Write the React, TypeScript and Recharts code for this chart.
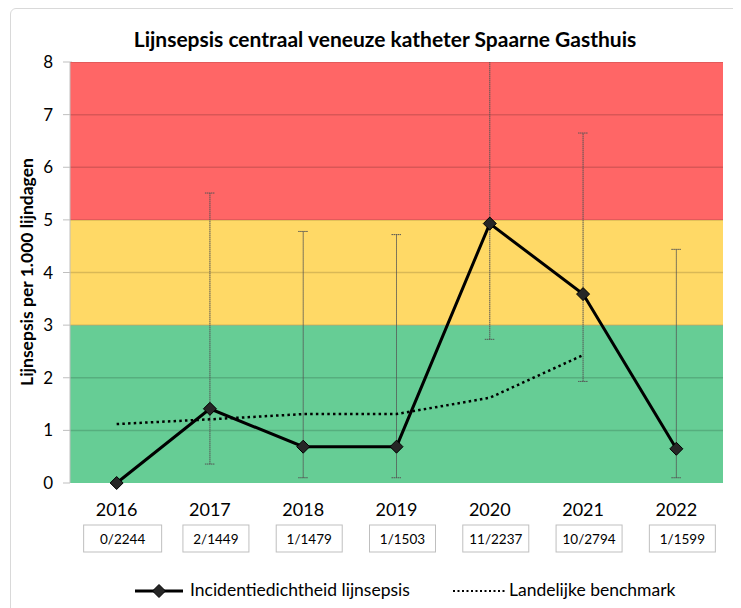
import React from 'react';
import { ComposedChart, Line, XAxis, YAxis, ReferenceArea, ReferenceLine, ErrorBar } from 'recharts';

const years = ['2016', '2017', '2018', '2019', '2020', '2021', '2022'];
const counts = ['0/2244', '2/1449', '1/1479', '1/1503', '11/2237', '10/2794', '1/1599'];
const incidence = [0, 1.41, 0.69, 0.69, 4.93, 3.59, 0.65];
const ciLow: (number | null)[] = [null, 0.36, 0.1, 0.1, 2.73, 1.93, 0.1];
const ciHigh: (number | null)[] = [null, 5.51, 4.78, 4.72, 9.6, 6.65, 4.44];
const benchmark: (number | null)[] = [1.12, 1.21, 1.31, 1.31, 1.62, 2.43, null];
const yTicks = [0, 1, 2, 3, 4, 5, 6, 7, 8];
const bands = [
  { from: 0, to: 3, color: '#66CD95' },
  { from: 3, to: 5, color: '#FFD966' },
  { from: 5, to: 8, color: '#FF6666' },
];

const data = years.map((y, i) => ({
  x: i + 0.5,
  year: y,
  value: incidence[i],
  err: ciLow[i] == null || ciHigh[i] == null ? undefined : [incidence[i] - (ciLow[i] as number), (ciHigh[i] as number) - incidence[i]],
  bench: benchmark[i],
}));

const FONT = 'Lato, "Liberation Sans", sans-serif';

const CatTick = (props: any) => {
  const { x, y, payload } = props;
  const i = Math.floor(payload.value);
  const wide = i === 0 ? 78 : 66;
  return (
    <g>
      <text x={x} y={y + 25} textAnchor="middle" fontSize={18} fill="#000" fontFamily={FONT}>{years[i]}</text>
      <rect x={x + 6 - wide / 2} y={y + 34} width={wide} height={27} fill="#fff" stroke="#bfbfbf" strokeWidth={1} />
      <text x={x + 6} y={y + 53} textAnchor="middle" fontSize={13.5} fill="#000" fontFamily={FONT}>{counts[i]}</text>
    </g>
  );
};

const Diamond = (props: any) => {
  const { cx, cy } = props;
  if (cx == null || cy == null) return null;
  const r = 6.5;
  return <path d={`M${cx},${cy - r}L${cx + r},${cy}L${cx},${cy + r}L${cx - r},${cy}Z`} fill="#262626" stroke="#000" strokeWidth={1} />;
};

export default function App() {
  return (
    <div style={{ position: 'relative', width: 733, height: 600, overflow: 'hidden', fontFamily: FONT }}>
      <ComposedChart width={733} height={600} data={data} margin={{ top: 54, right: 18, left: 0, bottom: 25 }} style={{ position: 'absolute', left: 0, top: 0 }}>
        <XAxis xAxisId="grid" type="number" domain={[0, 7]} ticks={[0, 1, 2, 3, 4, 5, 6, 7]} tick={false} tickSize={7} height={0} stroke="#bfbfbf" />
        <XAxis xAxisId="c" type="number" dataKey="x" domain={[0, 7]} ticks={[0.5, 1.5, 2.5, 3.5, 4.5, 5.5, 6.5]} axisLine={false} tickLine={false} height={100} tick={<CatTick />} interval={0} />
        <YAxis domain={[0, 8]} ticks={yTicks} allowDataOverflow width={62} tickSize={7} tickMargin={10} stroke="#bfbfbf" tick={{ fill: '#000', fontSize: 17, fontFamily: FONT }} interval={0} />
        <YAxis yAxisId="d" domain={[0, 8]} hide />
        {bands.map((b) => (
          <ReferenceArea key={b.from} xAxisId="c" y1={b.from} y2={b.to} fill={b.color} fillOpacity={1} stroke="none" />
        ))}
        {yTicks.slice(1).map((t) => (
          <ReferenceLine key={t} xAxisId="c" y={t} stroke="#000" strokeOpacity={0.15} strokeWidth={1.5} />
        ))}
        <Line xAxisId="c" type="linear" dataKey="value" stroke="none" dot={false} activeDot={false} isAnimationActive={false}>
          <ErrorBar dataKey="err" direction="y" width={5} stroke="#555" strokeWidth={1} strokeDasharray="1.5 0.5" />
        </Line>
        <Line xAxisId="c" yAxisId="d" type="linear" dataKey="bench" stroke="#000" strokeWidth={2.5} strokeDasharray="2.5 3.2" dot={false} activeDot={false} isAnimationActive={false} connectNulls={false} />
        <Line xAxisId="c" yAxisId="d" type="linear" dataKey="value" stroke="#000" strokeWidth={3} dot={<Diamond />} activeDot={false} isAnimationActive={false} />
      </ComposedChart>
      <div style={{ position: 'absolute', left: 64, top: 1, width: 669, height: 53, background: '#fff' }} />
      <div style={{ position: 'absolute', left: 2, top: 0, width: 800, height: 700, border: '1px solid #d9d9d9', borderRadius: 6, boxSizing: 'border-box' }} />
      <div style={{ position: 'absolute', left: 0, width: 754, top: 18, textAlign: 'center', fontWeight: 'bold', fontSize: 21, color: '#000' }}>
        Lijnsepsis centraal veneuze katheter Spaarne Gasthuis
      </div>
      <div style={{ position: 'absolute', left: 18, top: 264, width: 0, height: 0 }}>
        <div style={{ position: 'absolute', transform: 'translate(-50%, -50%) rotate(-90deg)', whiteSpace: 'nowrap', fontWeight: 'bold', fontSize: 17.5, color: '#000' }}>
          Lijnsepsis per 1.000 lijndagen
        </div>
      </div>
      <div style={{ position: 'absolute', left: 0, top: 571, width: 733, height: 24, fontSize: 17.5, color: '#000' }}>
        <svg style={{ position: 'absolute', left: 127, top: 4 }} width={48} height={16}>
          <line x1={0} y1={8} x2={48} y2={8} stroke="#000" strokeWidth={3} />
          <path d="M24,1.5L30.5,8L24,14.5L17.5,8Z" fill="#262626" stroke="#000" />
        </svg>
        <span style={{ position: 'absolute', left: 182, top: 0, whiteSpace: 'nowrap' }}>Incidentiedichtheid lijnsepsis</span>
        <svg style={{ position: 'absolute', left: 445, top: 4 }} width={52} height={16}>
          <line x1={0} y1={8} x2={52} y2={8} stroke="#000" strokeWidth={2} strokeDasharray="2 2.5" />
        </svg>
        <span style={{ position: 'absolute', left: 501, top: 0, whiteSpace: 'nowrap' }}>Landelijke benchmark</span>
      </div>
    </div>
  );
}
